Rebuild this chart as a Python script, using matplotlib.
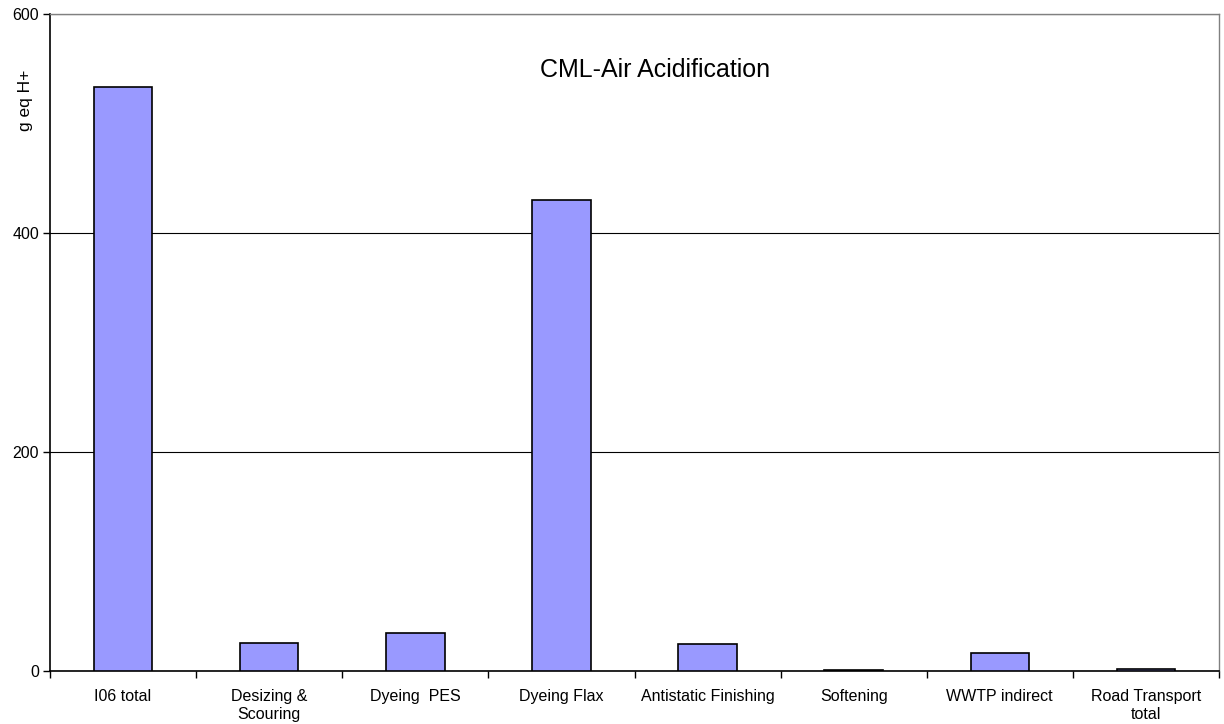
import matplotlib
matplotlib.use("Agg")
import matplotlib.pyplot as plt
import numpy as np

# CML air acidification per process step (g eq H+)
categories = [
    "I06 total",
    "Desizing &\nScouring",
    "Dyeing  PES",
    "Dyeing Flax",
    "Antistatic Finishing",
    "Softening",
    "WWTP indirect",
    "Road Transport\ntotal",
]
values = [533, 26, 34.5, 430, 24.5, 0.6, 16.7, 1.5]
y_ticks = [0, 200, 400, 600]

plt.rcParams["font.family"] = ["Liberation Sans", "DejaVu Sans"]

fig = plt.figure(figsize=(12.24, 7.24), dpi=100)
ax = fig.add_axes([50 / 1224, 53 / 724, 1169 / 1224, 657 / 724])

x = np.arange(len(categories))
ax.bar(x, values, width=0.4, color="#9999ff", edgecolor="black", linewidth=1.2, zorder=3)

ax.set_xlim(-0.5, len(categories) - 0.5)
ax.set_ylim(0, 600)
ax.set_yticks(y_ticks)
ax.tick_params(axis="y", direction="out", length=5, width=1, labelsize=11.5, pad=3)
ax.grid(True, axis="y", color="black", linewidth=0.8, zorder=0)

# category labels centred, tick marks on the boundaries
ax.set_xticks(x)
ax.set_xticklabels(categories, fontsize=11.5, linespacing=1.25)
ax.tick_params(axis="x", which="major", length=0, pad=13)
ax.set_xticks(np.arange(len(categories) + 1) - 0.5, minor=True)
ax.tick_params(axis="x", which="minor", direction="out", length=5, width=1)

for side in ("left", "bottom"):
    ax.spines[side].set_color("black")
    ax.spines[side].set_linewidth(1.2)
for side in ("top", "right"):
    ax.spines[side].set_color("#808080")
    ax.spines[side].set_linewidth(1.0)

ax.set_ylabel("g eq H+", fontsize=12.5)
ax.yaxis.set_label_coords(-0.0145, 0.869)

ax.text(0.5175, 0.904, "CML-Air Acidification", transform=ax.transAxes,
        ha="center", va="baseline", fontsize=18)

fig.savefig("out.png", dpi=100)
